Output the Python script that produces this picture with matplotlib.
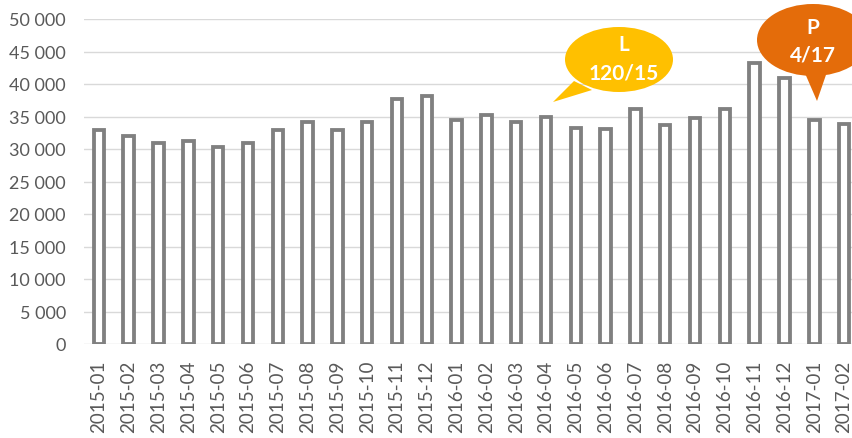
import matplotlib
matplotlib.use("Agg")
import matplotlib.pyplot as plt
from matplotlib.patches import Ellipse, Polygon

categories = ["2015-01", "2015-02", "2015-03", "2015-04", "2015-05", "2015-06",
              "2015-07", "2015-08", "2015-09", "2015-10", "2015-11", "2015-12",
              "2016-01", "2016-02", "2016-03", "2016-04", "2016-05", "2016-06",
              "2016-07", "2016-08", "2016-09", "2016-10", "2016-11", "2016-12",
              "2017-01", "2017-02"]
values = [32900, 32000, 30900, 31200, 30300, 31000,
          33000, 34100, 33000, 34100, 37700, 38200,
          34500, 35200, 34100, 34900, 33300, 33100,
          36100, 33700, 34700, 36100, 43200, 41000,
          34400, 33800]
y_ticks = [0, 5000, 10000, 15000, 20000, 25000, 30000, 35000, 40000, 45000, 50000]
y_tick_labels = ["0", "5 000", "10 000", "15 000", "20 000", "25 000",
                 "30 000", "35 000", "40 000", "45 000", "50 000"]
callout_L = ["L", "120/15"]
callout_P = ["P", "4/17"]

W, H = 853, 439
fig = plt.figure(figsize=(W / 100, H / 100), dpi=100)
fig.patch.set_facecolor("white")

left_px, right_px, top_px, bottom_px = 84, 859, 20, 345
ax = fig.add_axes([left_px / W, 1 - bottom_px / H,
                   (right_px - left_px) / W, (bottom_px - top_px) / H])
ax.set_facecolor("white")

x = list(range(len(categories)))
ax.bar(x, values, width=0.35, color="white", edgecolor="#808080",
       linewidth=2.75, zorder=3)

ax.set_xlim(-0.5, len(categories) - 0.5)
ax.set_ylim(0, 50000)
ax.set_yticks(y_ticks)
ax.set_yticklabels(y_tick_labels)
ax.set_xticks(x)
ax.set_xticklabels(categories, rotation=90)
ax.yaxis.grid(True, color="#d9d9d9", linewidth=1.0, zorder=0)
ax.set_axisbelow(True)
for s in ax.spines.values():
    s.set_visible(False)
ax.tick_params(axis="both", length=0, colors="#595959")
ax.tick_params(axis="y", pad=13, labelsize=13)
ax.tick_params(axis="x", pad=11, labelsize=13.5)
for lab in ax.get_xticklabels() + ax.get_yticklabels():
    lab.set_fontfamily(["Lato", "DejaVu Sans"])
    lab.set_color("#595959")

# overlay for callouts, in pixel coordinates
ov = fig.add_axes([0, 0, 1, 1], facecolor="none")
ov.set_xlim(0, W)
ov.set_ylim(H, 0)
ov.axis("off")

yellow = "#FFC000"
orange = "#E46C0A"
bfont = ["Lato", "DejaVu Sans"]

ov.add_patch(Ellipse((619, 60.5), 108, 65, facecolor=yellow, edgecolor="none", zorder=5))
ov.add_patch(Polygon([(574, 82), (553, 103), (592, 91)], closed=True,
                     facecolor=yellow, edgecolor="none", zorder=5))
ov.text(624, 45, callout_L[0], color="white", fontsize=15, fontweight="bold",
        ha="center", va="center", family=bfont, zorder=6)
ov.text(624, 73, callout_L[1], color="white", fontsize=15, fontweight="bold",
        ha="center", va="center", family=bfont, zorder=6)

ov.add_patch(Ellipse((813, 41), 112, 72, facecolor=orange, edgecolor="none", zorder=5))
ov.add_patch(Polygon([(804, 72), (817, 102), (828, 70)], closed=True,
                     facecolor=orange, edgecolor="none", zorder=5))
ov.text(813, 28.5, callout_P[0], color="white", fontsize=15, fontweight="bold",
        ha="center", va="center", family=bfont, zorder=6)
ov.text(813, 55.5, callout_P[1], color="white", fontsize=15, fontweight="bold",
        ha="center", va="center", family=bfont, zorder=6)

fig.savefig("out.png", dpi=100, facecolor="white")
